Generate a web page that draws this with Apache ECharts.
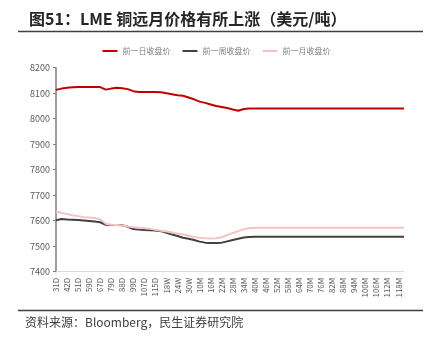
<!DOCTYPE html>
<html><head><meta charset="utf-8">
<script src="https://cdn.jsdelivr.net/npm/echarts@6/dist/echarts.min.js"></script>
<style>html,body{margin:0;padding:0;background:#fff}#c{width:433px;height:342px}</style>
</head><body><div id="c"></div>
<script>
const categories = ["31D","37D","42D","46D","51D","55D","59D","63D","67D","73D","79D","84D","88D","94D","99D","103D","107D","111D","115D","15W","18W","21W","24W","27W","30W","8M",
"10M","13M","16M","19M","22M","25M","28M","31M","34M","37M","40M","43M","46M","49M","52M","55M","58M","61M","64M","67M","70M","73M","76M","79M","82M","85M","88M","91M","94M","97M","100M","103M","106M","109M","112M","115M","118M","121M"];
const seriesNames = ["前一日收盘价","前一周收盘价","前一月收盘价"];
const dayAgo = [8113,8118,8121,8123,8124,8124,8124,8124,8124,8114,8118,8121,8119,8116,8108,8105,8105,8105,8105,8104,8100,8096,8092,8090,8083,8076,8067,8062,8056,8050,8046,8042,8036,8031,8038,8040,
8040,8040,8040,8040,8040,8040,8040,8040,8040,8040,8040,8040,8040,8040,8040,8040,8040,8040,8040,8040,8040,8040,8040,8040,8040,8040,8040,8040];
const weekAgo = [7602,7607,7605,7604,7603,7601,7599,7597,7594,7584,7583,7583,7582,7576,7567,7565,7564,7563,7562,7559,7553,7546,7540,7533,7529,7524,7518,7514,7513,7513,7514,7519,7524,7529,7534,7536,
7537,7537,7537,7537,7537,7537,7537,7537,7537,7537,7537,7537,7537,7537,7537,7537,7537,7537,7537,7537,7537,7537,7537,7537,7537,7537,7537,7537];
const monthAgo = [7636,7630,7626,7621,7618,7614,7613,7611,7606,7588,7584,7583,7581,7577,7574,7572,7570,7568,7564,7561,7558,7554,7550,7546,7541,7536,7533,7531,7530,7531,7535,7544,7552,7559,7566,7571,
7572,7572,7572,7572,7572,7572,7572,7572,7572,7572,7572,7572,7572,7572,7572,7572,7572,7572,7572,7572,7572,7572,7572,7572,7572,7572,7572,7572];
const yMin = 7400, yMax = 8200, yStep = 100;
const titleText = "图51：LME 铜远月价格有所上涨（美元/吨）";
const sourceText = "资料来源：Bloomberg，民生证券研究院";

const chart = echarts.init(document.getElementById('c'), null, {renderer:'canvas'});
const font = '"Noto Sans CJK SC","Noto Sans",sans-serif';
const colors = ['#C00000','#404040','#F2C4C4'];
chart.setOption({
  animation:false,
  textStyle:{fontFamily:font},
  title:{text:titleText,left:24,top:6,textStyle:{fontSize:16,fontWeight:'bold',color:'#262626',fontFamily:font}},
  legend:{top:42,left:'center',itemWidth:15,itemHeight:2,itemGap:12,icon:'rect',
    textStyle:{fontSize:8,color:'#7f7f7f',fontFamily:font},data:seriesNames},
  grid:{left:56,right:29,top:67.7,bottom:70.3,containLabel:false},
  xAxis:{type:'category',data:categories,boundaryGap:false,
    axisLine:{lineStyle:{color:'#d9d9d9',width:1}},axisTick:{show:false},
    axisLabel:{interval:1,rotate:90,fontSize:8,color:'#595959',margin:6,fontFamily:font},
    splitLine:{show:false}},
  yAxis:{type:'value',min:yMin,max:yMax,interval:yStep,
    axisLine:{show:true,lineStyle:{color:'#7f7f7f',width:1.5}},
    axisTick:{show:true,length:3,lineStyle:{color:'#7f7f7f'}},
    axisLabel:{fontSize:9,color:'#595959',margin:6,fontFamily:font,formatter:function(v){return String(v);}},
    splitLine:{show:false}},
  graphic:[
    {type:'line',shape:{x1:18,y1:31.5,x2:423,y2:31.5},style:{stroke:'#404040',lineWidth:1.5}},
    {type:'line',shape:{x1:18,y1:310.5,x2:423,y2:310.5},style:{stroke:'#404040',lineWidth:1.5}},
    {type:'text',left:25,top:316,style:{text:sourceText,fontSize:12,fill:'#404040',fontFamily:font}}
  ],
  series:[
    {name:seriesNames[0],type:'line',data:dayAgo,showSymbol:false,symbol:'none',lineStyle:{color:colors[0],width:2},itemStyle:{color:colors[0]}},
    {name:seriesNames[1],type:'line',data:weekAgo,showSymbol:false,symbol:'none',lineStyle:{color:colors[1],width:2},itemStyle:{color:colors[1]}},
    {name:seriesNames[2],type:'line',data:monthAgo,showSymbol:false,symbol:'none',lineStyle:{color:colors[2],width:2},itemStyle:{color:colors[2]}}
  ]
});
</script></body></html>
